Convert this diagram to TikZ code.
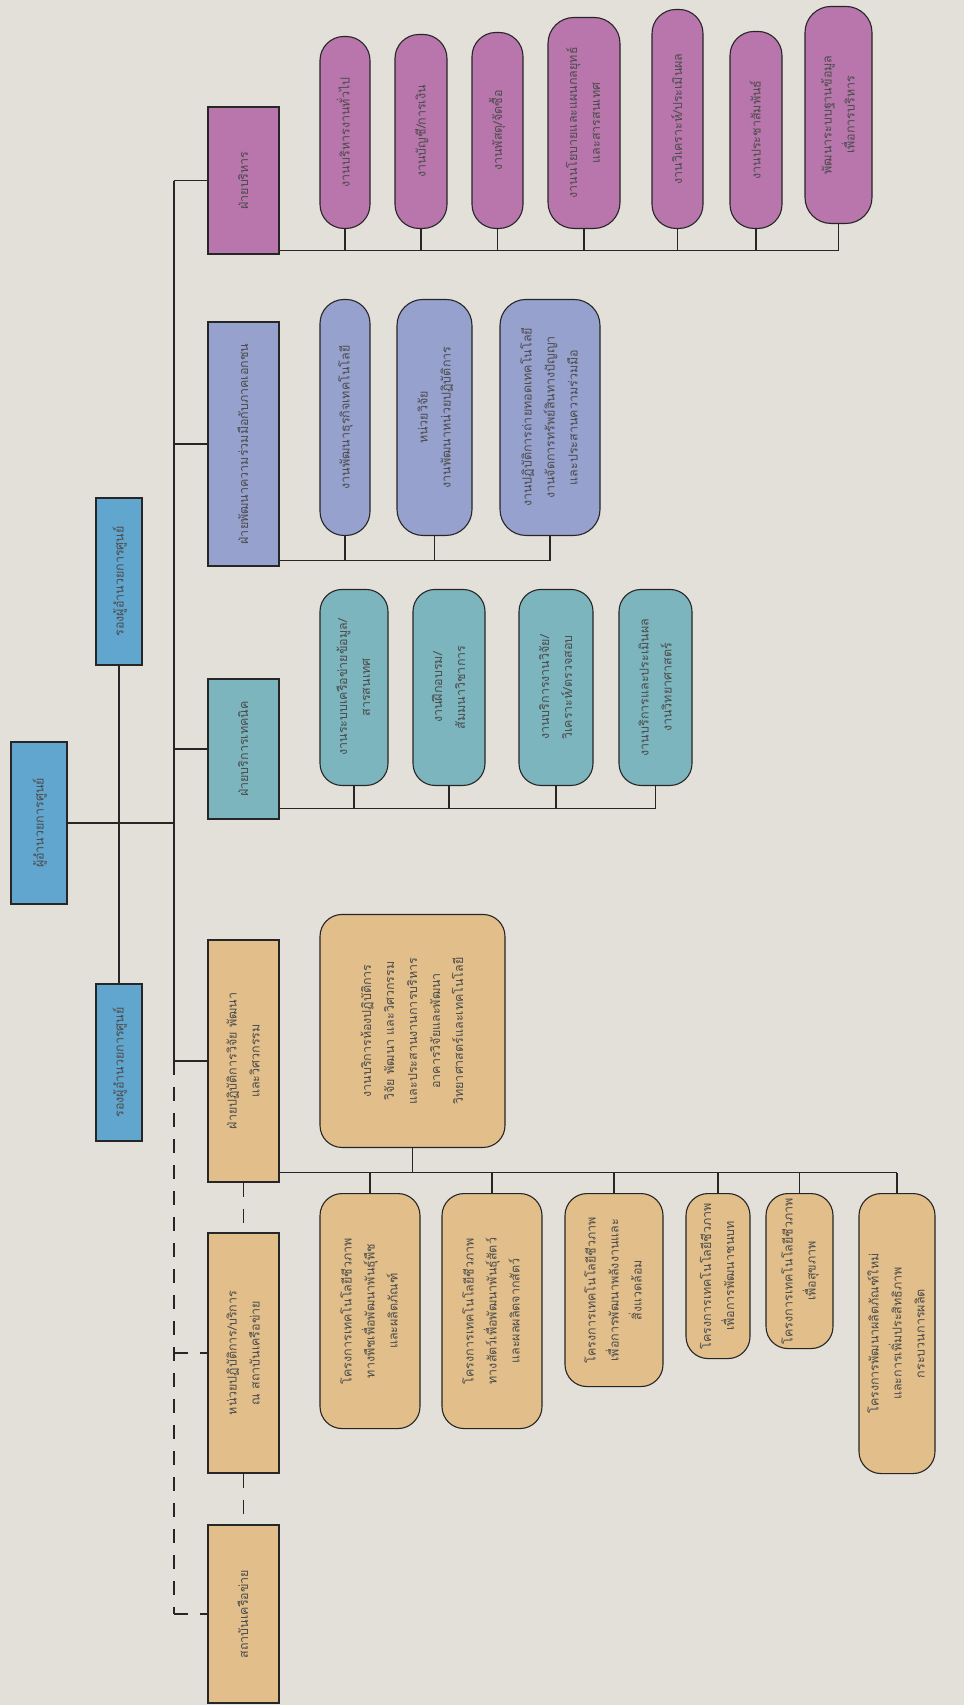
\documentclass[tikz,border=0pt]{standalone}
\usepackage{fontspec}
\usepackage{graphicx}
\newfontfamily\thai[Script=Thai]{Loma}
\usetikzlibrary{calc}

\definecolor{paper}{RGB}{227,224,218}
\definecolor{chief}{RGB}{96,166,206}
\definecolor{admin}{RGB}{184,118,172}
\definecolor{coop}{RGB}{151,161,206}
\definecolor{tech}{RGB}{124,181,190}
\definecolor{lab}{RGB}{226,191,138}

% text set bottom-to-top
\newcommand{\vt}[1]{\rotatebox{90}{\begin{tabular}{@{}c@{}}#1\end{tabular}}}

\tikzset{
  box/.style={draw=black!85, line width=1.1pt, inner sep=0pt, text=black!70,
    font=\thai\fontsize{12.5}{23}\selectfont},
  kid/.style={box, rounded corners=#1},
  kid/.default=22pt,
  link/.style={line width=1.1pt, black!85},
  dashlink/.style={link, dash pattern=on 14pt off 12pt},
}

\begin{document}
\begin{tikzpicture}[x=1pt, y=-1pt]
\fill[paper] (0,0) rectangle (964,1705);
\useasboundingbox (0,0) rectangle (964,1705);

% director and deputies
\node[box, fill=chief, minimum width=56, minimum height=162] (root) at (39,823) {\vt{ผู้อำนวยการศูนย์}};
\node[box, fill=chief, minimum width=46, minimum height=167] (dep1) at (119,581.5) {\vt{รองผู้อำนวยการศูนย์}};
\node[box, fill=chief, minimum width=46, minimum height=157] (dep2) at (119,1062.5) {\vt{รองผู้อำนวยการศูนย์}};

% departments
\node[box, fill=admin, minimum width=71, minimum height=147] (adm) at (243.5,180.5) {\vt{ฝ่ายบริหาร}};
\node[box, fill=coop, minimum width=71, minimum height=244] (dev) at (243.5,444) {\vt{ฝ่ายพัฒนาความร่วมมือกับภาคเอกชน}};
\node[box, fill=tech, minimum width=71, minimum height=140] (tec) at (243.5,749) {\vt{ฝ่ายบริการเทคนิค}};
\node[box, fill=lab, minimum width=71, minimum height=242] (res) at (243.5,1061) {\vt{ฝ่ายปฏิบัติการวิจัย พัฒนา\\และวิศวกรรม}};
\node[box, fill=lab, minimum width=71, minimum height=240] (unit) at (243.5,1353) {\vt{หน่วยปฏิบัติการ/บริการ\\ณ สถาบันเครือข่าย}};
\node[box, fill=lab, minimum width=71, minimum height=178] (net) at (243.5,1614) {\vt{สถาบันเครือข่าย}};

% administration
\node[kid=24pt, fill=admin, anchor=south, minimum width=50, minimum height=192] (ad1) at (345,229) {\vt{งานบริหารงานทั่วไป}};
\node[kid=24pt, fill=admin, anchor=south, minimum width=52, minimum height=194] (ad2) at (421,229) {\vt{งานบัญชี/การเงิน}};
\node[kid=24pt, fill=admin, anchor=south, minimum width=51, minimum height=196] (ad3) at (497.5,229) {\vt{งานพัสดุ/จัดซื้อ}};
\node[kid=26pt, fill=admin, anchor=south, minimum width=72, minimum height=211] (ad4) at (584,229) {\vt{งานนโยบายและแผนกลยุทธ์\\และสารสนเทศ}};
\node[kid=24pt, fill=admin, anchor=south, minimum width=51, minimum height=219] (ad5) at (677.5,229) {\vt{งานวิเคราะห์/ประเมินผล}};
\node[kid=24pt, fill=admin, anchor=south, minimum width=52, minimum height=197] (ad6) at (756,229) {\vt{งานประชาสัมพันธ์}};
\node[kid=26pt, fill=admin, anchor=south, minimum width=67, minimum height=217] (ad7) at (838.5,224) {\vt{พัฒนาระบบฐานข้อมูล\\เพื่อการบริหาร}};

% cooperation
\node[kid=24pt, fill=coop, anchor=south, minimum width=50, minimum height=236] (dv1) at (345,536) {\vt{งานพัฒนาธุรกิจเทคโนโลยี}};
\node[kid=26pt, fill=coop, anchor=south, minimum width=75, minimum height=236] (dv2) at (434.5,536) {\vt{หน่วยวิจัย\\งานพัฒนาหน่วยปฏิบัติการ}};
\node[kid=26pt, fill=coop, anchor=south, minimum width=100, minimum height=236] (dv3) at (550,536) {\vt{งานปฏิบัติการถ่ายทอดเทคโนโลยี\\งานจัดการทรัพย์สินทางปัญญา\\และประสานความร่วมมือ}};

% technical services
\node[kid, fill=tech, anchor=south, minimum width=68, minimum height=196] (tc1) at (354,786) {\vt{งานระบบเครือข่ายข้อมูล/\\สารสนเทศ}};
\node[kid, fill=tech, anchor=south, minimum width=72, minimum height=196] (tc2) at (449,786) {\vt{งานฝึกอบรม/\\สัมมนาวิชาการ}};
\node[kid, fill=tech, anchor=south, minimum width=74, minimum height=196] (tc3) at (556,786) {\vt{งานบริการงานวิจัย/\\วิเคราะห์/ตรวจสอบ}};
\node[kid, fill=tech, anchor=south, minimum width=73, minimum height=196] (tc4) at (655.5,786) {\vt{งานบริการและประเมินผล\\งานวิทยาศาสตร์}};

% research, development and engineering
\node[kid, fill=lab, anchor=south, minimum width=185, minimum height=233] (rb) at (412.5,1148) {\vt{งานบริการห้องปฏิบัติการ\\วิจัย พัฒนา และวิศวกรรม\\และประสานงานการบริหาร\\อาคารวิจัยและพัฒนา\\วิทยาศาสตร์และเทคโนโลยี}};
\node[kid, fill=lab, anchor=north, minimum width=100, minimum height=235] (p1) at (370,1193) {\vt{โครงการเทคโนโลยีชีวภาพ\\ทางพืชเพื่อพัฒนาพันธุ์พืช\\และผลิตภัณฑ์}};
\node[kid, fill=lab, anchor=north, minimum width=100, minimum height=235] (p2) at (492,1193) {\vt{โครงการเทคโนโลยีชีวภาพ\\ทางสัตว์เพื่อพัฒนาพันธุ์สัตว์\\และผลผลิตจากสัตว์}};
\node[kid, fill=lab, anchor=north, minimum width=98, minimum height=193] (p3) at (614,1193) {\vt{โครงการเทคโนโลยีชีวภาพ\\เพื่อการพัฒนาพลังงานและ\\สิ่งแวดล้อม}};
\node[kid, fill=lab, anchor=north, minimum width=64, minimum height=165] (p4) at (718,1193) {\vt{โครงการเทคโนโลยีชีวภาพ\\เพื่อการพัฒนาชนบท}};
\node[kid, fill=lab, anchor=north, minimum width=67, minimum height=155] (p5) at (799.5,1193) {\vt{โครงการเทคโนโลยีชีวภาพ\\เพื่อสุขภาพ}};
\node[kid, fill=lab, anchor=north, minimum width=76, minimum height=280] (p6) at (897,1193) {\vt{โครงการพัฒนาผลิตภัณฑ์ใหม่\\และการเพิ่มประสิทธิภาพ\\กระบวนการผลิต}};

% main lines
\coordinate (bus) at (174,823);
\draw[link] (root.east) -- (bus);
\draw[link] (dep1.south) -- (dep2.north);
\draw[link] (bus |- adm.west) -- (bus |- res.west);
\foreach \d in {adm,dev,tec,res}
  \draw[link] (bus |- \d.west) -- (\d.west);
\draw[dashlink] (bus |- res.west) -- (bus |- net.west);
\foreach \d in {unit,net}
  \draw[dashlink] (bus |- \d.west) -- (\d.west);
\draw[dashlink] (res.south) -- (unit.north);
\draw[dashlink] (unit.south) -- (net.north);

% lines to the sections
\coordinate (admj) at ([yshift=4pt]adm.south east);
\coordinate (devj) at ([yshift=6pt]dev.south east);
\coordinate (tecj) at ([yshift=11pt]tec.south east);
\coordinate (resj) at ([yshift=10pt]res.south east);
\draw[link] (admj) -- (admj -| ad7.south);
\foreach \k in {ad1,ad2,ad3,ad4,ad5,ad6,ad7}
  \draw[link] (\k.south) -- (\k.south |- admj);
\draw[link] (devj) -- (devj -| dv3.south);
\foreach \k in {dv1,dv2,dv3}
  \draw[link] (\k.south) -- (\k.south |- devj);
\draw[link] (tecj) -- (tecj -| tc4.south);
\foreach \k in {tc1,tc2,tc3,tc4}
  \draw[link] (\k.south) -- (\k.south |- tecj);
\draw[link] (resj) -- (resj -| p6.north);
\draw[link] (rb.south) -- (rb.south |- resj);
\foreach \k in {p1,p2,p3,p4,p5,p6}
  \draw[link] (\k.north) -- (\k.north |- resj);
\end{tikzpicture}
\end{document}
